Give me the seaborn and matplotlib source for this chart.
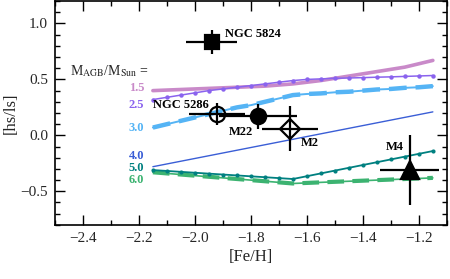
import numpy as np
import pandas as pd
import matplotlib
matplotlib.use("Agg")
import matplotlib.pyplot as plt
import seaborn as sns

# ---------------- data ----------------
feh_grid = [-2.15, -2.10, -2.05, -2.00, -1.95, -1.90, -1.85, -1.80, -1.75, -1.70, -1.65,
            -1.60, -1.55, -1.50, -1.45, -1.40, -1.35, -1.30, -1.25, -1.20, -1.15]
m15 = [0.40, 0.405, 0.41, 0.415, 0.42, 0.425, 0.43, 0.435, 0.44, 0.45, 0.46,
       0.475, 0.49, 0.51, 0.53, 0.55, 0.57, 0.59, 0.61, 0.64, 0.67]
m25 = [0.32, 0.34, 0.36, 0.38, 0.40, 0.415, 0.43, 0.445, 0.46, 0.475, 0.49,
       0.50, 0.505, 0.51, 0.513, 0.516, 0.52, 0.523, 0.527, 0.531, 0.535]
m30 = [0.07, 0.10, 0.13, 0.16, 0.19, 0.22, 0.25, 0.27, 0.30, 0.33, 0.36,
       0.37, 0.375, 0.385, 0.39, 0.40, 0.41, 0.415, 0.425, 0.43, 0.44]
feh_40 = [-2.15, -1.65, -1.15]
m40 = [-0.28, -0.035, 0.21]
m50 = [-0.31, -0.318, -0.326, -0.334, -0.342, -0.35, -0.358, -0.366, -0.374, -0.382, -0.39,
       -0.365, -0.34, -0.315, -0.29, -0.265, -0.24, -0.215, -0.19, -0.165, -0.14]
m60 = [-0.33, -0.34, -0.35, -0.36, -0.37, -0.38, -0.39, -0.40, -0.41, -0.42, -0.43,
       -0.425, -0.42, -0.415, -0.41, -0.405, -0.40, -0.395, -0.39, -0.385, -0.38]
mass_labels = ["1.5", "2.5", "3.0", "4.0", "5.0", "6.0"]

clusters = ["NGC 5824", "NGC 5286", "M22", "M2", "M4"]
cl_feh = [-1.94, -1.92, -1.775, -1.66, -1.233]
cl_hsls = [0.835, 0.19, 0.17, 0.06, -0.31]
cl_xerr = [0.09, 0.10, 0.14, 0.10, 0.105]
cl_yerr = [0.105, 0.10, 0.11, 0.20, 0.31]

# ---------------- style ----------------
sns.set_style("ticks")
plt.rcParams["font.family"] = ["Liberation Serif", "DejaVu Serif"]
plt.rcParams["mathtext.fontset"] = "stix"
plt.rcParams["xtick.direction"] = "in"
plt.rcParams["ytick.direction"] = "in"

fig = plt.figure(figsize=(4.5, 2.79), dpi=100)
ax = fig.add_axes([0.122, 0.194, 0.871, 0.802])

col15 = "#c98ac9"
col25 = "#8a63ee"
col30 = "#55b4f5"
col40 = "#3a5ed6"
col50 = "#008080"
col60 = "#3cb371"

sns.lineplot(x=feh_grid, y=m15, ax=ax, color=col15, lw=2.6, sort=False)
sns.lineplot(x=feh_grid, y=m25, ax=ax, color=col25, lw=1.1, marker="o", ms=3.2,
             markeredgewidth=0, sort=False)
sns.lineplot(x=feh_grid, y=m30, ax=ax, color=col30, lw=1.4, sort=False)
sns.lineplot(x=feh_grid, y=m30, ax=ax, color=col30, lw=3.2,
             linestyle=(0, (4, 2)), sort=False)
sns.lineplot(x=feh_40, y=m40, ax=ax, color=col40, lw=1.0, sort=False)
sns.lineplot(x=feh_grid, y=m60, ax=ax, color=col60, lw=1.2, sort=False)
sns.lineplot(x=feh_grid, y=m60, ax=ax, color=col60, lw=3.0,
             linestyle=(0, (4, 2)), sort=False)
sns.lineplot(x=feh_grid, y=m50, ax=ax, color=col50, lw=1.3, marker="o", ms=3.0,
             markeredgewidth=0, sort=False)

# cluster points
mk = {"NGC 5824": dict(marker="s", ms=10, mfc="black"),
      "NGC 5286": dict(marker="o", ms=11, mfc="none"),
      "M22": dict(marker="o", ms=11, mfc="black"),
      "M2": dict(marker="D", ms=10, mfc="none"),
      "M4": dict(marker="^", ms=13, mfc="black")}
for name, x, y, xe, ye in zip(clusters, cl_feh, cl_hsls, cl_xerr, cl_yerr):
    ax.errorbar(x, y, xerr=xe, yerr=ye, color="black", ecolor="black", elinewidth=1.6,
                capsize=0, mec="black", mew=1.6, zorder=5, **mk[name])

tk = dict(fontsize=9, fontweight="bold", color="black")
ax.text(-1.894, 0.91, "NGC 5824", va="center", ha="left", **tk)
ax.text(-1.95, 0.27, "NGC 5286", va="center", ha="right", **tk)
ax.text(-1.879, 0.027, "M22", va="center", ha="left", **tk)
ax.text(-1.623, -0.07, "M2", va="center", ha="left", **tk)
ax.text(-1.318, -0.10, "M4", va="center", ha="left", **tk)

ax.text(-2.447, 0.575, r"M$_{\rm AGB}$/M$_{\rm Sun}$ =", va="center", ha="left", fontsize=10)
lab_y = [0.42, 0.27, 0.067, -0.185, -0.29, -0.395]
lab_c = [col15, col25, col30, col40, col50, col60]
for lab, yy, cc in zip(mass_labels, lab_y, lab_c):
    ax.text(-2.181, yy, lab, va="center", ha="right", fontsize=9, fontweight="bold", color=cc)

ax.set_xlim(-2.5, -1.1)
ax.set_ylim(-0.8, 1.2)
ax.set_xticks([-2.4, -2.2, -2.0, -1.8, -1.6, -1.4, -1.2])
ax.set_xticklabels(["\u22122.4", "\u22122.2", "\u22122.0", "\u22121.8", "\u22121.6", "\u22121.4", "\u22121.2"])
ax.set_yticks([-0.5, 0.0, 0.5, 1.0])
ax.set_yticklabels(["\u22120.5", "0.0", "0.5", "1.0"])
ax.set_xticks(np.arange(-2.5, -1.05, 0.1), minor=True)
ax.set_yticks(np.arange(-0.8, 1.21, 0.1), minor=True)
ax.tick_params(which="both", direction="in", top=True, right=True, labelsize=11, width=1.0,
               color="black")
ax.tick_params(which="major", length=7, pad=5)
ax.tick_params(which="minor", length=3.5)
for s in ax.spines.values():
    s.set_linewidth(1.2)
    s.set_color("black")
ax.set_xlabel("[Fe/H]", fontsize=12, labelpad=3)
ax.set_ylabel("[hs/ls]", fontsize=12, labelpad=1)

fig.savefig("out.png", dpi=100)
